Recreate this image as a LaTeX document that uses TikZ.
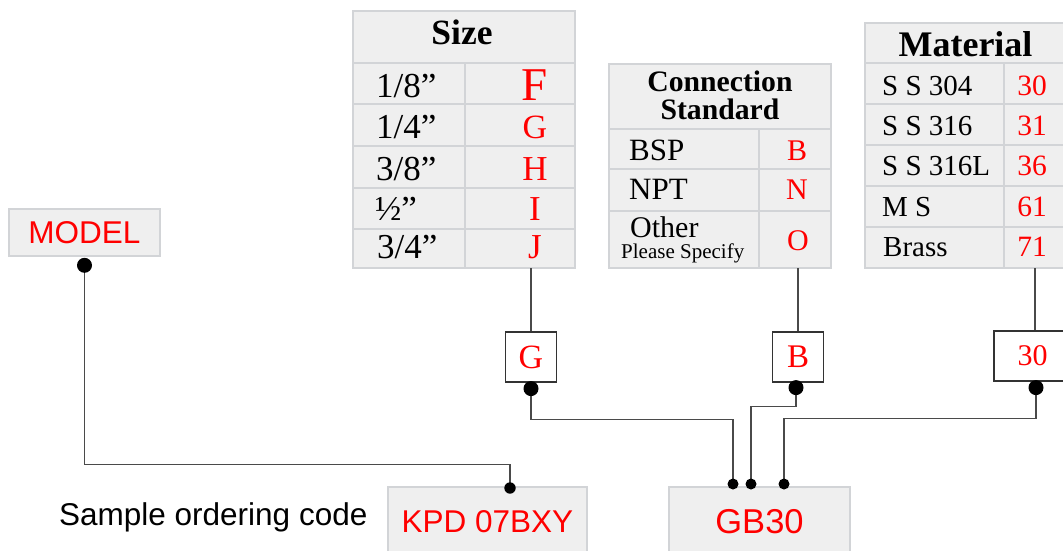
\documentclass[tikz,border=0pt]{standalone}
\usepackage{fontspec}
\setmainfont{Liberation Serif}
\setsansfont{Liberation Sans}
\definecolor{cellfill}{HTML}{EFEFEF}
\definecolor{cellline}{HTML}{D2D4D7}
\definecolor{codered}{HTML}{FF0000}
\definecolor{wirecol}{HTML}{4A4A4A}
\newcommand\mkcell[6]{\node[cell,minimum width={(#4)-(#2)},minimum height={(#5)-(#3)}] (#1) at ({((#2)+(#4))/2},{((#3)+(#5))/2}) {#6};}
\tikzset{
  cell/.style={draw=cellline,line width=2.6pt,fill=cellfill,inner sep=0pt,outer sep=0pt},
  lt/.style={anchor=base west,inner sep=0pt,font=\fontsize{#1}{#1}\selectfont},
  code/.style={anchor=base,inner sep=0pt,text=codered,font=\fontsize{#1}{#1}\selectfont},
  hd/.style={anchor=base,inner sep=0pt,font=\bfseries\fontsize{#1}{#1}\selectfont},
  pick/.style={draw=black!80,line width=1.2pt,fill=white,inner sep=0pt,minimum height=50,text=codered},
  wire/.style={draw=wirecol,line width=1.5pt},
  sbox/.style={draw=cellline,line width=2.6pt,fill=cellfill,inner sep=0pt,text=codered,font=\sffamily\fontsize{#1}{#1}\selectfont},
}
\begin{document}
\begin{tikzpicture}[x=1pt,y=-1pt]
\useasboundingbox (0,0) rectangle (1063,550);
\fill[white] (0,0) rectangle (1063,550);
% ---------------- Size table
\mkcell{sH}{353}{11}{575}{63}{}
\node[hd=35.5] (tSize) at (462,44) {Size};
\mkcell{sL1}{353}{63}{465}{104}{}
\mkcell{sR1}{465}{63}{575}{104}{}
\mkcell{sL2}{353}{104}{465}{146}{}
\mkcell{sR2}{465}{104}{575}{146}{}
\mkcell{sL3}{353}{146}{465}{188}{}
\mkcell{sR3}{465}{146}{575}{188}{}
\mkcell{sL4}{353}{188}{465}{229}{}
\mkcell{sR4}{465}{188}{575}{229}{}
\mkcell{sL5}{353}{229}{465}{268}{}
\mkcell{sR5}{465}{229}{575}{268}{}
\node[lt=35] (t1) at (376,97) {1/8”};
\node[lt=35] (t2) at (376,138) {1/4”};
\node[lt=35] (t3) at (376,180) {3/8”};
\node[lt=35] (t4) at (375,220) {½”};
\node[lt=35] (t5) at (377,258) {3/4”};
\node[code=47] (cF) at (535,100) {F};
\node[code=34] (cG) at (535,138) {G};
\node[code=35] (cH) at (535,180) {H};
\node[code=35] (cI) at (535,220) {I};
\node[code=35] (cJ) at (535,258) {J};
% ---------------- Connection table
\mkcell{cHd}{609}{64}{831}{129}{}
\node[hd=29.7] (tCon) at (720,91) {Connection};
\node[hd=29.7] (tStd) at (720,119.5) {Standard};
\mkcell{cL1}{609}{129}{759}{169}{}
\mkcell{cR1}{759}{129}{831}{169}{}
\mkcell{cL2}{609}{169}{759}{211}{}
\mkcell{cR2}{759}{169}{831}{211}{}
\mkcell{cL3}{609}{211}{759}{268}{}
\mkcell{cR3}{759}{211}{831}{268}{}
\node[lt=31] (tBSP) at (629,160) {BSP};
\node[lt=31] (tNPT) at (629,199.5) {NPT};
\node[lt=30] (tOth) at (630,237.5) {Other};
\node[lt=21] (tPls) at (621,258) {Please Specify};
\node[code=30] (cB) at (797,160) {B};
\node[code=30] (cN) at (797,199.5) {N};
\node[code=30] (cO) at (798,250) {O};
% ---------------- Material table
\mkcell{mH}{865}{23}{1068}{63}{}
\node[hd=36] (tMat) at (965.5,56) {Material};
\mkcell{mL1}{865}{63}{1004}{104}{}
\mkcell{mR1}{1004}{63}{1068}{104}{}
\mkcell{mL2}{865}{104}{1004}{145}{}
\mkcell{mR2}{1004}{104}{1068}{145}{}
\mkcell{mL3}{865}{145}{1004}{186}{}
\mkcell{mR3}{1004}{145}{1068}{186}{}
\mkcell{mL4}{865}{186}{1004}{227}{}
\mkcell{mR4}{1004}{186}{1068}{227}{}
\mkcell{mL5}{865}{227}{1004}{268}{}
\mkcell{mR5}{1004}{227}{1068}{268}{}
\node[lt=29] (m1) at (882,95) {S S 304};
\node[lt=29] (m2) at (882,135) {S S 316};
\node[lt=29] (m3) at (882,175) {S S 316L};
\node[lt=29] (m4) at (882,216.5) {M S};
\node[lt=29] (m5) at (883,256.5) {Brass};
\node[code=29.5] (n1) at (1032,95) {30};
\node[code=29.5] (n2) at (1032,135) {31};
\node[code=29.5] (n3) at (1032,175) {36};
\node[code=29.5] (n4) at (1032,216.5) {61};
\node[code=29.5] (n5) at (1032,256.5) {71};
% ---------------- picked codes
\node[pick,minimum width=51,font=\fontsize{34}{34}\selectfont] (gbox) at (531,357) {G};
\node[pick,minimum width=51,font=\fontsize{33}{33}\selectfont] (bbox) at (798,357) {B};
\node[pick,minimum width=82,font=\fontsize{30}{30}\selectfont] (mbox) at (1035,356) {\hspace*{-5pt}30};
\draw[wire] (gbox.north) -- (gbox.north |- sR5.south);
\draw[wire] (bbox.north) -- (bbox.north |- cR3.south);
\draw[wire] (mbox.north) -- (mbox.north |- mR5.south);
% ---------------- bottom boxes
\node[sbox=31.5,minimum width=151,minimum height=47] (model) at (84.5,232.5) {MODEL};
\node[sbox=31.5,minimum width=199,minimum height=69] (kpd) at (487.5,521.5) {KPD 07BXY};
\node[sbox=34.5,minimum width=181,minimum height=69] (gb) at (759.5,521.5) {GB30};
\node[anchor=base west,inner sep=0pt,font=\sffamily\fontsize{31.5}{31.5}\selectfont] (sample) at (59,525) {Sample ordering code};
% ---------------- connectors
\coordinate (gdot) at ([yshift=-6pt]gbox.south);
\coordinate (bdot) at ([yshift=-5pt,xshift=-2pt]bbox.south);
\coordinate (mdot) at ([yshift=-6pt,xshift=1pt]mbox.south);
\coordinate (modot) at ([yshift=-8pt]model.south);
\coordinate (in1) at (733,484);
\coordinate (in2) at (751,484);
\coordinate (in3) at (784,484);
\coordinate (kin) at (510,488);
\draw[wire] (gdot) -- ++(0,31) -| (in1);
\draw[wire] (bdot) -- ++(0,19) -| (in2);
\draw[wire] (mdot) -- ++(0,31) -| (in3);
\draw[wire] (modot) -- ++(0,199) -| (kin);
\fill (gdot) circle (7.5);
\fill (bdot) circle (7.5);
\fill (mdot) circle (7.5);
\fill (modot) circle (7.5);
\fill (in1) circle (5.5);
\fill (in2) circle (5.5);
\fill (in3) circle (5.5);
\fill (kin) circle (5.7);
\end{tikzpicture}
\end{document}
